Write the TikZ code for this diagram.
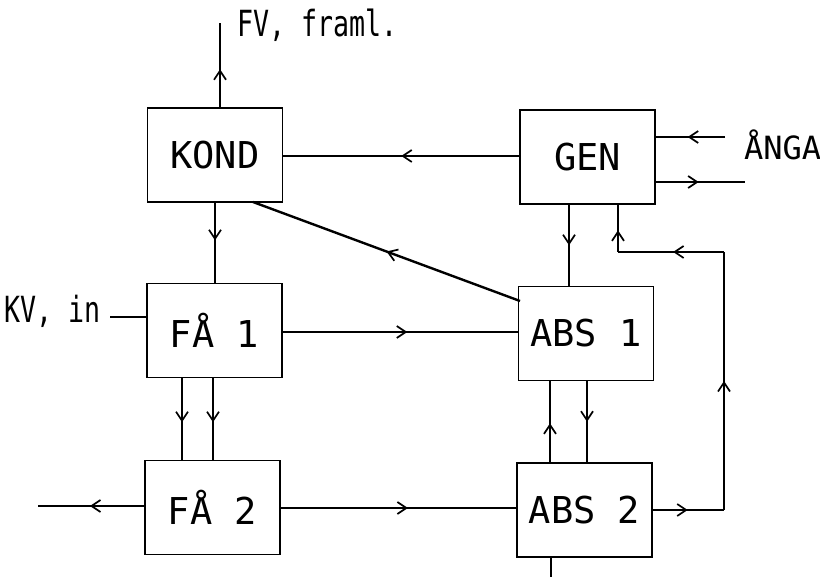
\documentclass[tikz,border=0pt]{standalone}
\usepackage{fontspec}
\usetikzlibrary{arrows.meta,decorations.markings}
\newfontfamily\boxfont{DejaVu Sans Mono}
\newfontfamily\labfont[FakeStretch=0.74]{DejaVu Sans Mono}
\tikzset{
  blk/.style={draw,line width=1.8pt,inner sep=0pt,minimum width=135pt,minimum height=94pt,font=\boxfont\fontsize{37}{40}\selectfont},
  ln/.style={line width=1.7pt},
  thk/.style={line width=2.4pt},
  marr/.style={postaction={decorate},decoration={markings,mark=at position #1 with {\arrow[line width=1.7pt]{Straight Barb[length=9pt,width=12pt]}}}},
  lab/.style={inner sep=0pt,font=\labfont\fontsize{36}{38}\selectfont},
}
\begin{document}
\begin{tikzpicture}[x=1pt,y=-1pt]
\useasboundingbox (0,0) rectangle (820,577);
% boxes
\node[blk] (KOND) at (215,155) {KOND};
\node[blk] (GEN)  at (587.5,157) {GEN};
\node[blk] (FA1)  at (214.5,330.5) {FÅ 1};
\node[blk] (ABS1) at (586,333.5) {ABS 1};
\node[blk] (FA2)  at (212.5,507.5) {FÅ 2};
\node[blk] (ABS2) at (584.5,510) {ABS 2};
% labels
\node[lab,anchor=base west] (fvl) at (237,37) {FV, framl.};
\node[lab,anchor=base east] (kvl) at (101,323) {KV, in};
\node[inner sep=0pt,anchor=base west,font=\boxfont\fontsize{32}{34}\selectfont] (anga) at (744,160) {ÅNGA};
% free ends
\coordinate (fvtop) at (220,23);
\coordinate (angain) at (725,137);
\coordinate (genout) at (745,182);
\coordinate (kvin) at (110,317);
\coordinate (fa2out) at (38,506);
\coordinate (absbot) at (551,577);
\coordinate (c1) at (724,510);
\coordinate (c2) at (724,252);
\coordinate (c3) at (618,252);
\coordinate (dk) at (253,202);
\coordinate (da) at (520,301);
% connectors
\draw[ln,marr=0.45] (KOND.north -| fvtop) -- (fvtop);
\draw[ln,marr=0.5] (GEN.west |- 0,156) -- (KOND.east |- 0,156);
\draw[ln,marr=0.47] (KOND.south -| 215,0) -- (FA1.north -| 215,0);
\draw[thk,marr=0.5] (da) -- (dk);
\draw[ln,marr=0.54] (angain) -- (GEN.east |- angain);
\draw[ln,marr=0.48] (GEN.east |- genout) -- (genout);
\draw[ln,marr=0.5] (GEN.south -| 569,0) -- (ABS1.north -| 569,0);
\draw[ln,marr=0.49] (ABS2.east |- c1) -- (c1);
\draw[ln,marr=0.5] (c1) -- (c2);
\draw[ln,marr=0.48] (c2) -- (c3);
\draw[ln,marr=0.46] (c3) -- (GEN.south -| c3);
\draw[ln] (kvin) -- (FA1.west |- kvin);
\draw[ln,marr=0.53] (FA1.east |- 0,332) -- (ABS1.west |- 0,332);
\draw[thk,marr=0.54] (FA1.south -| 182,0) -- (FA2.north -| 182,0);
\draw[ln,marr=0.54] (FA1.south -| 213,0) -- (FA2.north -| 213,0);
\draw[ln,marr=0.51] (FA2.west |- fa2out) -- (fa2out);
\draw[ln,marr=0.54] (FA2.east |- 0,508) -- (ABS2.west |- 0,508);
\draw[thk,marr=0.48] (ABS2.north -| 550,0) -- (ABS1.south -| 550,0);
\draw[ln,marr=0.5] (ABS1.south -| 587,0) -- (ABS2.north -| 587,0);
\draw[ln] (ABS2.south -| absbot) -- (absbot);
\end{tikzpicture}
\end{document}
